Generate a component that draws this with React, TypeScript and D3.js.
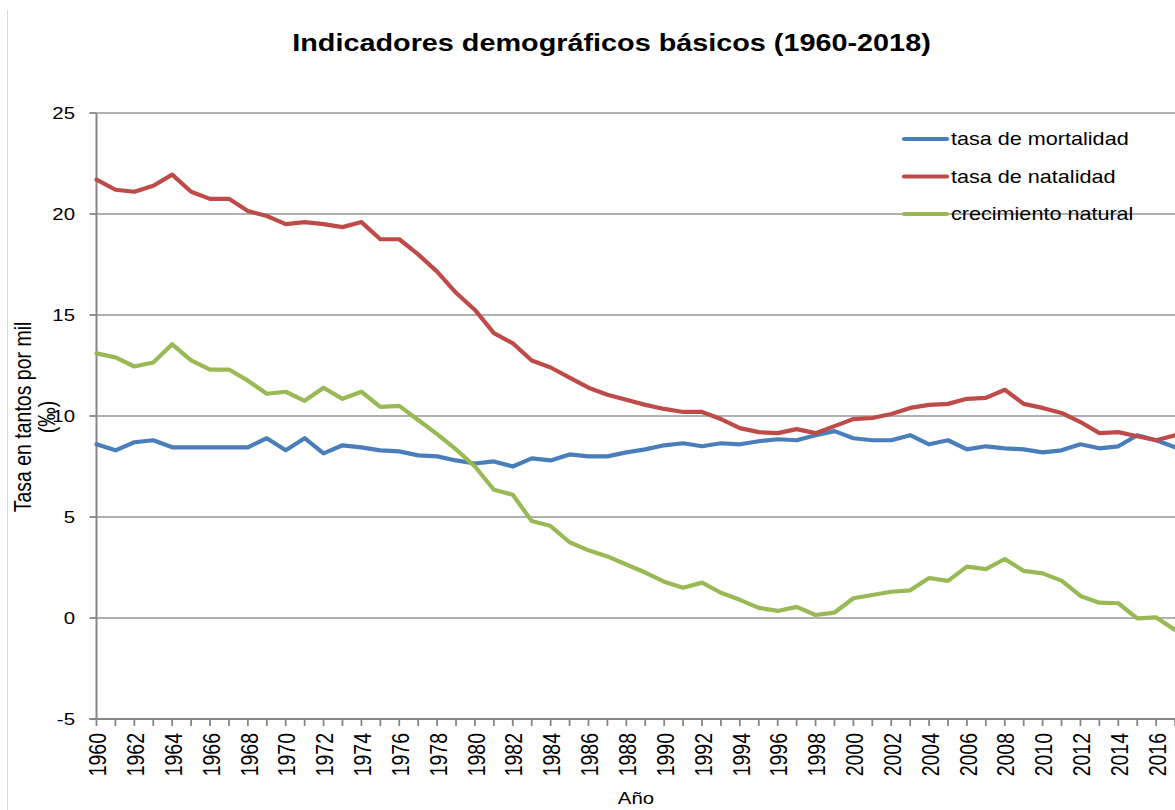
import React, { useEffect, useRef } from 'react';
import * as d3 from 'd3';

// Years shown on the category axis
const years = [
  1960, 1961, 1962, 1963, 1964, 1965, 1966, 1967, 1968, 1969,
  1970, 1971, 1972, 1973, 1974, 1975, 1976, 1977, 1978, 1979,
  1980, 1981, 1982, 1983, 1984, 1985, 1986, 1987, 1988, 1989,
  1990, 1991, 1992, 1993, 1994, 1995, 1996, 1997, 1998, 1999,
  2000, 2001, 2002, 2003, 2004, 2005, 2006, 2007, 2008, 2009,
  2010, 2011, 2012, 2013, 2014, 2015, 2016, 2017,
];

// Rates in ‰ (the original is cut off after 2017)
const mortalidad = [
  8.6, 8.3, 8.7, 8.8, 8.45, 8.45, 8.45, 8.45, 8.45, 8.9,
  8.3, 8.9, 8.15, 8.55, 8.45, 8.3, 8.25, 8.05, 8.0, 7.8,
  7.65, 7.75, 7.5, 7.9, 7.8, 8.1, 8.0, 8.0, 8.2, 8.35,
  8.55, 8.65, 8.5, 8.65, 8.6, 8.75, 8.85, 8.8, 9.05, 9.25,
  8.9, 8.8, 8.8, 9.05, 8.6, 8.8, 8.35, 8.5, 8.4, 8.35,
  8.2, 8.3, 8.6, 8.4, 8.5, 9.05, 8.8, 8.45,
];

const natalidad = [
  21.7, 21.2, 21.1, 21.4, 21.95, 21.1, 20.75, 20.75, 20.15, 19.9,
  19.5, 19.6, 19.5, 19.35, 19.6, 18.75, 18.75, 18.0, 17.15, 16.1,
  15.25, 14.1, 13.6, 12.75, 12.4, 11.9, 11.4, 11.05, 10.8, 10.55,
  10.35, 10.2, 10.2, 9.85, 9.4, 9.2, 9.15, 9.35, 9.15, 9.5,
  9.85, 9.9, 10.1, 10.4, 10.55, 10.6, 10.85, 10.9, 11.3, 10.6,
  10.4, 10.15, 9.7, 9.15, 9.2, 9.0, 8.8, 9.05,
];

const crecimiento = [
  13.1, 12.9, 12.45, 12.65, 13.55, 12.75, 12.3, 12.3, 11.75, 11.1,
  11.2, 10.75, 11.4, 10.85, 11.2, 10.45, 10.5, 9.8, 9.1, 8.35,
  7.5, 6.35, 6.1, 4.8, 4.55, 3.75, 3.35, 3.05, 2.65, 2.25,
  1.8, 1.5, 1.75, 1.25, 0.9, 0.5, 0.35, 0.55, 0.15, 0.27,
  0.98, 1.14, 1.3, 1.37, 1.98, 1.84, 2.54, 2.42, 2.92, 2.33,
  2.21, 1.85, 1.09, 0.76, 0.73, -0.02, 0.03, -0.59,
];

const seriesNames = ['tasa de mortalidad', 'tasa de natalidad', 'crecimiento natural'];
const seriesColors = ['#4a7ebb', '#be4b48', '#98b954'];
const yTicks = [-5, 0, 5, 10, 15, 20, 25];
const xDomain = [1960, 2018];

const W = 1175;
const H = 810;
const FONT = '"Liberation Sans", Arial, Helvetica, sans-serif';
const SX = 1.2; // the original picture is stretched sideways

export default function App() {
  const svgRef = useRef<SVGSVGElement>(null);

  useEffect(() => {
    const svg = d3.select(svgRef.current);
    svg.selectAll('*').remove();

    const x = d3.scaleLinear().domain(xDomain).range([96.5, 1194]);
    const y = d3.scaleLinear().domain([-5, 25]).range([719, 113]);
    const x0 = x(xDomain[0]);
    const x1 = x(xDomain[1]);

    // text helper, keeps the sideways stretch of the original
    const label = (tx: number, ty: number, text: string, size: number, opts: any = {}) => {
      const g = svg
        .append('g')
        .attr('transform', `translate(${tx},${ty}) scale(${SX},1) rotate(${opts.rotate || 0})`);
      return g
        .append('text')
        .attr('font-family', FONT)
        .attr('font-size', size)
        .attr('font-weight', opts.bold ? 'bold' : 'normal')
        .attr('text-anchor', opts.anchor || 'start')
        .attr('dy', opts.dy || 0)
        .attr('fill', '#000')
        .text(text);
    };

    svg.append('rect').attr('width', W).attr('height', H).attr('fill', '#fff');

    // chart border
    svg.append('line')
      .attr('x1', 7.5).attr('x2', 7.5).attr('y1', 10).attr('y2', H)
      .attr('stroke', '#d9d9d9').attr('stroke-width', 1);

    // title
    label(611.5, 51, 'Indicadores demográficos básicos (1960-2018)', 24, { anchor: 'middle', bold: true });

    // gridlines
    svg.append('g')
      .selectAll('line')
      .data(yTicks.filter((t) => t > -5))
      .join('line')
      .attr('x1', x0).attr('x2', x1)
      .attr('y1', (d) => y(d)).attr('y2', (d) => y(d))
      .attr('stroke', '#b0b0b0').attr('stroke-width', 1.8);

    // y ticks + labels
    svg.append('g')
      .selectAll('line')
      .data(yTicks)
      .join('line')
      .attr('x1', x0 - 7).attr('x2', x0)
      .attr('y1', (d) => y(d)).attr('y2', (d) => y(d))
      .attr('stroke', '#868686').attr('stroke-width', 1.8);
    yTicks.forEach((t) => label(75, y(t), String(t), 17, { anchor: 'end', dy: '0.35em' }));

    // x ticks (every year) + labels (every other year)
    svg.append('g')
      .selectAll('line')
      .data(d3.range(xDomain[0], xDomain[1] + 1))
      .join('line')
      .attr('x1', (d) => x(d)).attr('x2', (d) => x(d))
      .attr('y1', y(-5)).attr('y2', y(-5) + 7)
      .attr('stroke', '#868686').attr('stroke-width', 1.8);
    years
      .filter((yr) => yr % 2 === 0)
      .forEach((yr) => label(x(yr) + 1.5, 733, String(yr), 19.5, { anchor: 'end', dy: '0.35em', rotate: -90 }));

    // axes
    svg.append('line')
      .attr('x1', x0).attr('x2', x0).attr('y1', y(25)).attr('y2', y(-5))
      .attr('stroke', '#868686').attr('stroke-width', 2);
    svg.append('line')
      .attr('x1', x0 - 7).attr('x2', x1).attr('y1', y(-5)).attr('y2', y(-5))
      .attr('stroke', '#868686').attr('stroke-width', 2);

    // axis titles
    label(636, 804, 'Año', 17, { anchor: 'middle' });
    label(31, 417, 'Tasa en tantos por mil', 19.5, { anchor: 'middle', rotate: -90 });
    label(55, 417, '(‰)', 19.5, { anchor: 'middle', rotate: -90 });

    // series
    const line = d3
      .line<number>()
      .x((_, i) => x(years[i]))
      .y((d) => y(d));

    [mortalidad, natalidad, crecimiento].forEach((values, i) => {
      svg.append('path')
        .datum(values)
        .attr('d', line)
        .attr('fill', 'none')
        .attr('stroke', seriesColors[i])
        .attr('stroke-width', 4.2)
        .attr('stroke-linejoin', 'round')
        .attr('stroke-linecap', 'round');
    });

    // legend
    const legendY = [139, 176.5, 214];
    seriesNames.forEach((name, i) => {
      svg.append('line')
        .attr('x1', 904).attr('x2', 947)
        .attr('y1', legendY[i]).attr('y2', legendY[i])
        .attr('stroke', seriesColors[i])
        .attr('stroke-width', 4.2)
        .attr('stroke-linecap', 'round');
      label(951, legendY[i], name, 18, { dy: '0.35em' });
    });
  }, []);

  return (
    <div style={{ position: 'absolute', left: 0, top: 0, width: W, height: H, overflow: 'hidden' }}>
      <svg ref={svgRef} width={W} height={H} style={{ display: 'block' }} />
    </div>
  );
}
